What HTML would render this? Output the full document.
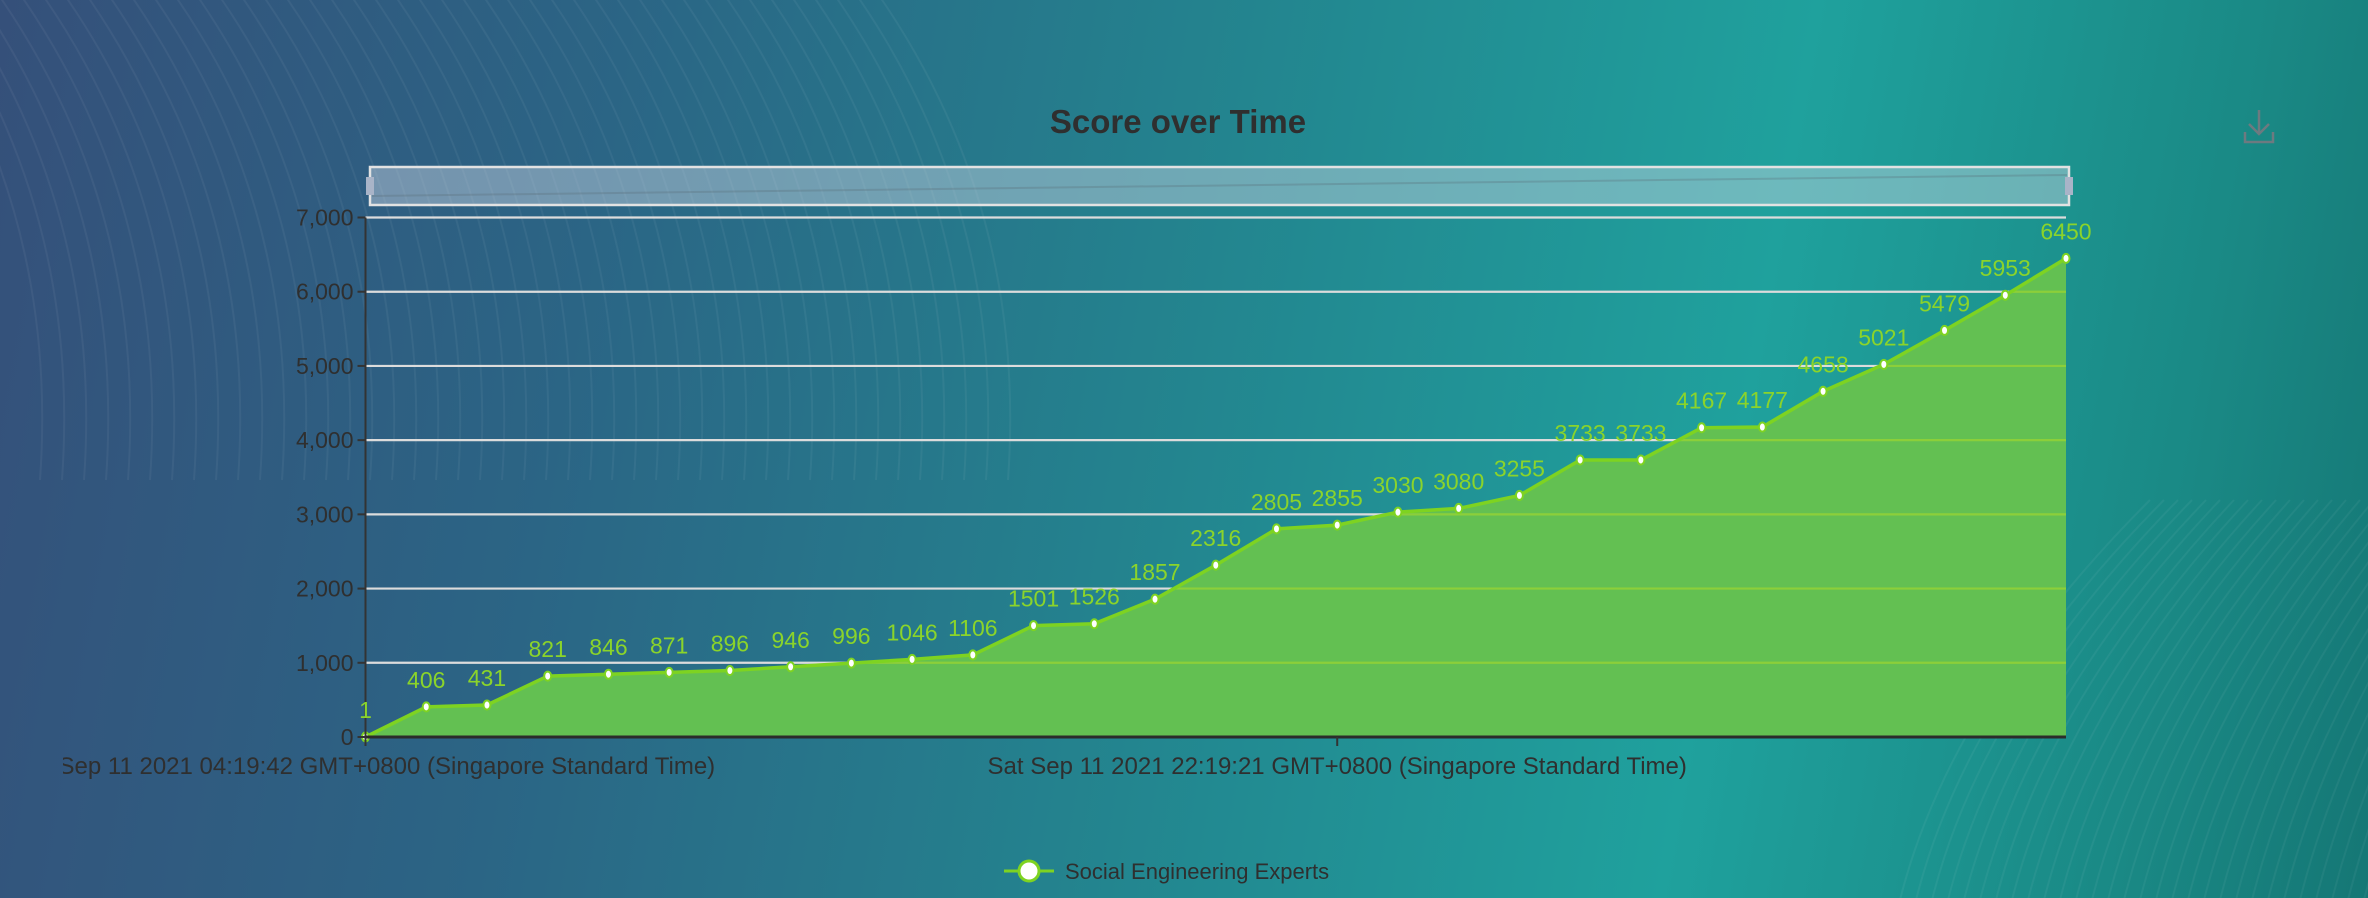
<!DOCTYPE html>
<html><head><meta charset="utf-8"><style>
html,body{margin:0;padding:0;width:2368px;height:898px;overflow:hidden}
body{background:linear-gradient(100deg,#35507a 0%,#2b6585 25%,#23858f 50%,#1fa19d 72%,#1a8985 90%,#157775 100%);font-family:"Liberation Sans",sans-serif}
svg{position:absolute;left:0;top:0}
</style></head><body>
<svg id="chart" width="2368" height="898">
  <g id="bgLines" stroke="rgba(255,255,255,0.05)" stroke-width="2" fill="none"></g>
  <text x="1178" y="133" text-anchor="middle" font-size="33" font-weight="bold" fill="#2f2f2f">Score over Time</text>
  <g stroke="#6d7a80" stroke-width="2.5" fill="none">
    <path d="M2259 110 v24 M2249 124 l10 10 l10 -10 M2245 132 v10 h28 v-10"/>
  </g>
  <g>
    <rect x="370" y="167" width="1699" height="38" fill="rgba(205,215,228,0.45)" stroke="#e2e2e2" stroke-width="2.5"/>
    <path d="M372 196 Q1200 185 2067 175" stroke="rgba(90,110,120,0.3)" stroke-width="2" fill="none"/>
    <rect x="366" y="177" width="8" height="18" fill="#a9b4c8"/>
    <rect x="2065" y="177" width="8" height="18" fill="#a9b4c8"/>
  </g>
  <g id="grid"></g>
  <g id="area"></g>
  <g id="yaxis"></g>
  <g id="xaxis"></g>
  <g id="labels"></g>
  <g>
    <line x1="1004" y1="871" x2="1054" y2="871" stroke="#7ed321" stroke-width="3"/>
    <circle cx="1029" cy="871" r="10" fill="#fff" stroke="#7ed321" stroke-width="3"/>
    <text x="1065" y="879" font-size="22" fill="#2f2f2f">Social Engineering Experts</text>
  </g>
</svg>
<script>
const scores = [1,406,431,821,846,871,896,946,996,1046,1106,1501,1526,1857,2316,2805,2855,3030,3080,3255,3733,3733,4167,4177,4658,5021,5479,5953,6450];
const yTicks = [0,1000,2000,3000,4000,5000,6000,7000];
const yTickLabels = ["0","1,000","2,000","3,000","4,000","5,000","6,000","7,000"];
const xTickIndex = [0,16];
const xTickLabels = ["Sat Sep 11 2021 04:19:42 GMT+0800 (Singapore Standard Time)","Sat Sep 11 2021 22:19:21 GMT+0800 (Singapore Standard Time)"];

const NS="http://www.w3.org/2000/svg";
const L=365.5,R=2066,T=217.5,B=737,YMAX=7000;
const x=i=>L+(R-L)*i/(scores.length-1);
const y=v=>B-(B-T)*v/YMAX;
function mk(tag,attrs,parent){const e=document.createElementNS(NS,tag);for(const k in attrs)e.setAttribute(k,attrs[k]);parent.appendChild(e);return e;}

const bg=document.getElementById('bgLines');
for(let i=0;i<45;i++){const p=mk('path',{d:`M${i*22-100} -20 Q${i*22+60} 200 ${i*22+40} 480`},bg);

}
for(let i=0;i<30;i++){const p=mk('path',{d:`M${1900+i*16} 900 Q${1950+i*16} 700 ${2150+i*14} 500`},bg);

}

const grid=document.getElementById('grid'),ya=document.getElementById('yaxis');
yTicks.forEach((t,i)=>{
  if(t>0){const g=mk('line',{x1:L,x2:R,y1:y(t),y2:y(t),stroke:'#dcdcdc','stroke-width':2.2},grid);
  
  }
  const tk=mk('line',{x1:L-8,x2:L,y1:y(t),y2:y(t),stroke:'#333','stroke-width':2},ya);
  
  
  const tx=mk('text',{x:L-12,y:y(t)+8,'text-anchor':'end','font-size':23,fill:'#2f2f2f'},ya);
  tx.textContent=yTickLabels[i];
  
  
});
const ax=mk('line',{x1:L,x2:L,y1:T,y2:B,stroke:'#333','stroke-width':2},ya);



const area=document.getElementById('area');
let pts=scores.map((v,i)=>x(i)+','+y(v)).join(' ');
const polyPts=L+','+B+' '+pts+' '+R+','+B;
const cp=mk('clipPath',{id:'areaclip'},area);
mk('polygon',{points:polyPts},cp);
const poly=mk('polygon',{points:polyPts,fill:'#63c052'},area);


const og=mk('g',{'clip-path':'url(#areaclip)'},area);
yTicks.forEach(t=>{if(t>0){const g=mk('line',{x1:L,x2:R,y1:y(t),y2:y(t),stroke:'#8ccf3a','stroke-width':2.2},og);

}});
const ln=mk('polyline',{points:pts,fill:'none',stroke:'#7ed321','stroke-width':3.5},area);


const lab=document.getElementById('labels');
scores.forEach((v,i)=>{
  const c=mk('ellipse',{cx:x(i),cy:y(v),rx:3.5,ry:4.5,fill:'#fff',stroke:'#7ed321','stroke-width':2},area);
  
  
  const t=mk('text',{x:x(i),y:y(v)-19,'text-anchor':'middle','font-size':23,fill:'#8bd42a'},lab);
  t.textContent=v;
  
  
});

const xa=document.getElementById('xaxis');
const xl=mk('line',{x1:L,x2:R,y1:B,y2:B,stroke:'#2b2b2b','stroke-width':3},xa);


const clip=mk('clipPath',{id:'xclip'},xa);
mk('rect',{x:63,y:740,width:2300,height:60},clip);
xTickIndex.forEach((ix,i)=>{
  const tk=mk('line',{x1:x(ix),x2:x(ix),y1:B,y2:B+9,stroke:'#333','stroke-width':2},xa);
  
  
  const t=mk('text',{x:x(ix),y:774,'text-anchor':'middle','font-size':24,fill:'#2f2f2f','clip-path':'url(#xclip)'},xa);
  t.textContent=xTickLabels[i];
  
  
});
</script>
</body></html>
